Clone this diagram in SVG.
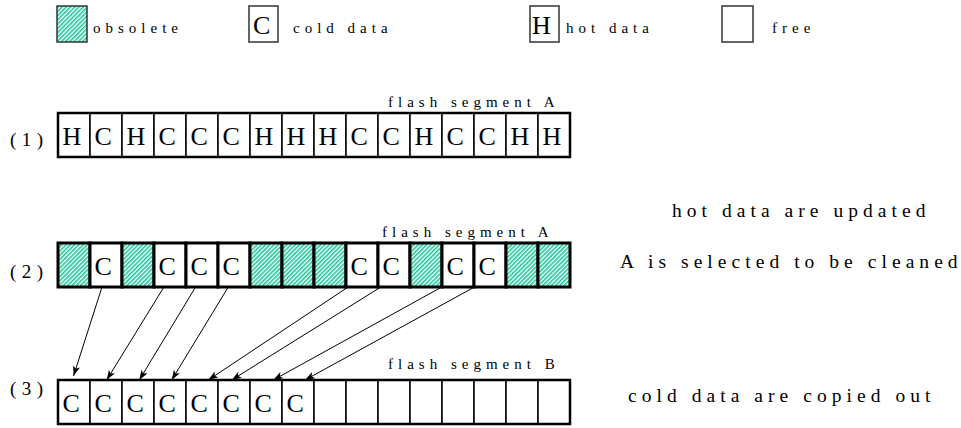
<svg xmlns="http://www.w3.org/2000/svg" width="961" height="428" viewBox="0 0 961 428" font-family="'Liberation Serif', 'Times New Roman', 'DejaVu Serif', serif">
<defs>
<pattern id="hatch" patternUnits="userSpaceOnUse" width="3" height="3" patternTransform="rotate(45)">
<rect width="3" height="3" fill="#ffffff"/>
<rect width="1.6" height="3" fill="#1cc79a"/>
</pattern>
<marker id="ah" markerUnits="userSpaceOnUse" markerWidth="11" markerHeight="8" refX="10" refY="3.5" orient="auto">
<path d="M0,0 L10,3.5 L0,7 L2.5,3.5 z" fill="#000"/>
</marker>
</defs>
<style>
text{font-family:'Liberation Serif','Times New Roman','DejaVu Serif',serif;fill:#000}
.lbl{font-size:15px;letter-spacing:5px}
.big{font-size:19.5px;letter-spacing:5.05px}
.num{font-size:19px;letter-spacing:5.5px}
.ch{font-size:26px}
.cell{fill:#fff;stroke:#000;stroke-width:1.5}
.cell2{fill:#fff;stroke:#000;stroke-width:3}
.leg{fill:#fff;stroke:#333;stroke-width:1.5}
.obs{fill:url(#hatch)}
.outer{fill:none;stroke:#000;stroke-width:2.5}
.conn{stroke:#000;stroke-width:1;fill:none;marker-end:url(#ah)}
</style>
<rect width="961" height="428" fill="#fff"/>

<g id="legend">
<g id="legend-obsolete"><rect class="leg obs" x="57" y="6" width="30" height="36"/><text class="lbl" x="93" y="33">obsolete</text></g>
<g id="legend-cold"><rect class="leg" x="249" y="6" width="29" height="36"/><text class="ch" x="253" y="34">C</text><text class="lbl" x="293" y="33">cold data</text></g>
<g id="legend-hot"><rect class="leg" x="530" y="6" width="29" height="36"/><text class="ch" x="532" y="34">H</text><text class="lbl" x="566" y="33">hot data</text></g>
<g id="legend-free"><rect class="leg" x="722" y="6" width="31" height="36"/><text class="lbl" x="772" y="33">free</text></g>
</g>

<g id="row1">
<text class="num" x="10" y="146">(1)</text>
<text class="lbl" x="388" y="107">flash segment A</text>
<g id="r1c1"><rect class="cell" x="58" y="113" width="32" height="44"/><text class="ch" x="62.5" y="145">H</text></g>
<g id="r1c2"><rect class="cell" x="90" y="113" width="32" height="44"/><text class="ch" x="94.5" y="145">C</text></g>
<g id="r1c3"><rect class="cell" x="122" y="113" width="32" height="44"/><text class="ch" x="126.5" y="145">H</text></g>
<g id="r1c4"><rect class="cell" x="154" y="113" width="32" height="44"/><text class="ch" x="158.5" y="145">C</text></g>
<g id="r1c5"><rect class="cell" x="186" y="113" width="32" height="44"/><text class="ch" x="190.5" y="145">C</text></g>
<g id="r1c6"><rect class="cell" x="218" y="113" width="32" height="44"/><text class="ch" x="222.5" y="145">C</text></g>
<g id="r1c7"><rect class="cell" x="250" y="113" width="32" height="44"/><text class="ch" x="254.5" y="145">H</text></g>
<g id="r1c8"><rect class="cell" x="282" y="113" width="32" height="44"/><text class="ch" x="286.5" y="145">H</text></g>
<g id="r1c9"><rect class="cell" x="314" y="113" width="32" height="44"/><text class="ch" x="318.5" y="145">H</text></g>
<g id="r1c10"><rect class="cell" x="346" y="113" width="32" height="44"/><text class="ch" x="350.5" y="145">C</text></g>
<g id="r1c11"><rect class="cell" x="378" y="113" width="32" height="44"/><text class="ch" x="382.5" y="145">C</text></g>
<g id="r1c12"><rect class="cell" x="410" y="113" width="32" height="44"/><text class="ch" x="414.5" y="145">H</text></g>
<g id="r1c13"><rect class="cell" x="442" y="113" width="32" height="44"/><text class="ch" x="446.5" y="145">C</text></g>
<g id="r1c14"><rect class="cell" x="474" y="113" width="32" height="44"/><text class="ch" x="478.5" y="145">C</text></g>
<g id="r1c15"><rect class="cell" x="506" y="113" width="32" height="44"/><text class="ch" x="510.5" y="145">H</text></g>
<g id="r1c16"><rect class="cell" x="538" y="113" width="32" height="44"/><text class="ch" x="542.5" y="145">H</text></g>
<rect class="outer" x="58" y="113" width="512" height="44"/>
</g>

<text class="big" x="672" y="217">hot data are updated</text>

<g id="row2">
<text class="num" x="10" y="278">(2)</text>
<text class="lbl" x="382" y="237">flash segment A</text>
<g id="r2c1"><rect class="cell2 obs" x="58" y="243" width="32" height="44"/></g>
<g id="r2c2"><rect class="cell2" x="90" y="243" width="32" height="44"/><text class="ch" x="94.5" y="275">C</text></g>
<g id="r2c3"><rect class="cell2 obs" x="122" y="243" width="32" height="44"/></g>
<g id="r2c4"><rect class="cell2" x="154" y="243" width="32" height="44"/><text class="ch" x="158.5" y="275">C</text></g>
<g id="r2c5"><rect class="cell2" x="186" y="243" width="32" height="44"/><text class="ch" x="190.5" y="275">C</text></g>
<g id="r2c6"><rect class="cell2" x="218" y="243" width="32" height="44"/><text class="ch" x="222.5" y="275">C</text></g>
<g id="r2c7"><rect class="cell2 obs" x="250" y="243" width="32" height="44"/></g>
<g id="r2c8"><rect class="cell2 obs" x="282" y="243" width="32" height="44"/></g>
<g id="r2c9"><rect class="cell2 obs" x="314" y="243" width="32" height="44"/></g>
<g id="r2c10"><rect class="cell2" x="346" y="243" width="32" height="44"/><text class="ch" x="350.5" y="275">C</text></g>
<g id="r2c11"><rect class="cell2" x="378" y="243" width="32" height="44"/><text class="ch" x="382.5" y="275">C</text></g>
<g id="r2c12"><rect class="cell2 obs" x="410" y="243" width="32" height="44"/></g>
<g id="r2c13"><rect class="cell2" x="442" y="243" width="32" height="44"/><text class="ch" x="446.5" y="275">C</text></g>
<g id="r2c14"><rect class="cell2" x="474" y="243" width="32" height="44"/><text class="ch" x="478.5" y="275">C</text></g>
<g id="r2c15"><rect class="cell2 obs" x="506" y="243" width="32" height="44"/></g>
<g id="r2c16"><rect class="cell2 obs" x="538" y="243" width="32" height="44"/></g>
</g>

<text class="big" x="620" y="268">A is selected to be cleaned</text>

<g id="row3">
<text class="num" x="10" y="395">(3)</text>
<text class="lbl" x="388" y="369">flash segment B</text>
<g id="r3c1"><rect class="cell" x="58" y="380" width="32" height="44"/><text class="ch" x="62.5" y="412">C</text></g>
<g id="r3c2"><rect class="cell" x="90" y="380" width="32" height="44"/><text class="ch" x="94.5" y="412">C</text></g>
<g id="r3c3"><rect class="cell" x="122" y="380" width="32" height="44"/><text class="ch" x="126.5" y="412">C</text></g>
<g id="r3c4"><rect class="cell" x="154" y="380" width="32" height="44"/><text class="ch" x="158.5" y="412">C</text></g>
<g id="r3c5"><rect class="cell" x="186" y="380" width="32" height="44"/><text class="ch" x="190.5" y="412">C</text></g>
<g id="r3c6"><rect class="cell" x="218" y="380" width="32" height="44"/><text class="ch" x="222.5" y="412">C</text></g>
<g id="r3c7"><rect class="cell" x="250" y="380" width="32" height="44"/><text class="ch" x="254.5" y="412">C</text></g>
<g id="r3c8"><rect class="cell" x="282" y="380" width="32" height="44"/><text class="ch" x="286.5" y="412">C</text></g>
<g id="r3c9"><rect class="cell" x="314" y="380" width="32" height="44"/></g>
<g id="r3c10"><rect class="cell" x="346" y="380" width="32" height="44"/></g>
<g id="r3c11"><rect class="cell" x="378" y="380" width="32" height="44"/></g>
<g id="r3c12"><rect class="cell" x="410" y="380" width="32" height="44"/></g>
<g id="r3c13"><rect class="cell" x="442" y="380" width="32" height="44"/></g>
<g id="r3c14"><rect class="cell" x="474" y="380" width="32" height="44"/></g>
<g id="r3c15"><rect class="cell" x="506" y="380" width="32" height="44"/></g>
<g id="r3c16"><rect class="cell" x="538" y="380" width="32" height="44"/></g>
<rect class="outer" x="58" y="380" width="512" height="44"/>
</g>

<text class="big" x="628" y="402">cold data are copied out</text>

<g id="connectors">
<line class="conn" x1="101.7" y1="288" x2="73.5" y2="376"/>
<line class="conn" x1="163.3" y1="288" x2="106.7" y2="380"/>
<line class="conn" x1="195" y1="288" x2="139.3" y2="380"/>
<line class="conn" x1="227.7" y1="288" x2="171.7" y2="380"/>
<line class="conn" x1="346.7" y1="288" x2="208.3" y2="380"/>
<line class="conn" x1="379.3" y1="288" x2="231.7" y2="380"/>
<line class="conn" x1="440" y1="288" x2="273.3" y2="380"/>
<line class="conn" x1="472.7" y1="288" x2="305" y2="380"/>
</g>
</svg>
